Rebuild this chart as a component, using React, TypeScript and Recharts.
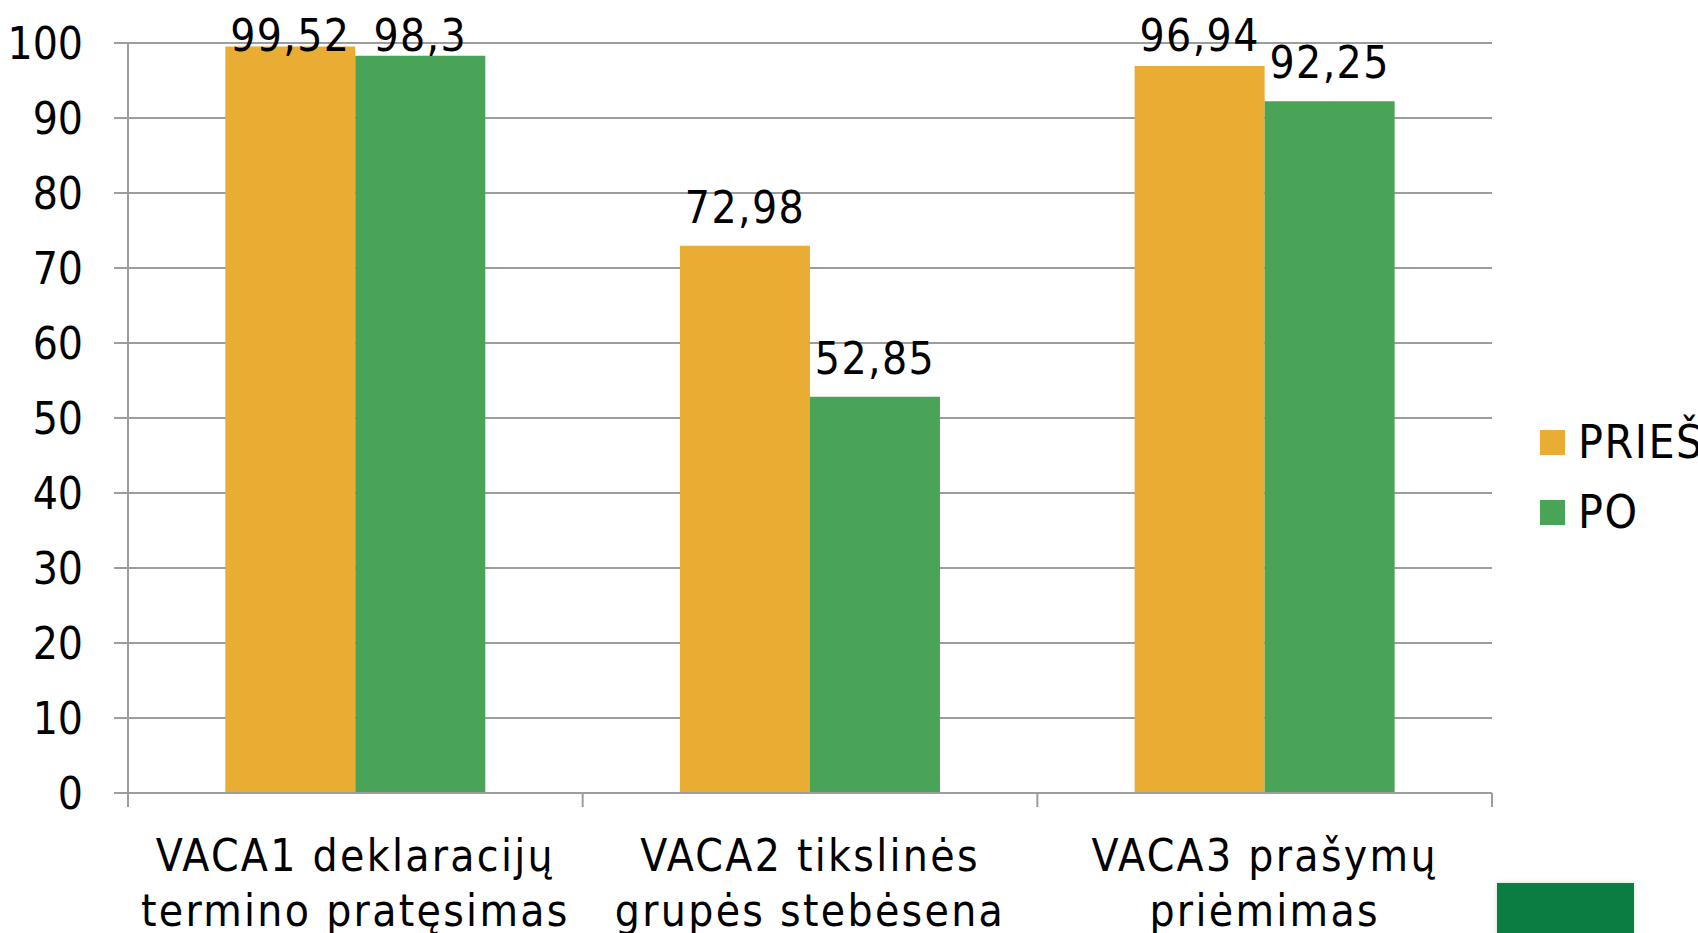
import React from 'react';
import { BarChart, Bar, XAxis, YAxis, CartesianGrid, LabelList, Legend } from 'recharts';

const categoryLine1 = ['VACA1 deklaracijų', 'VACA2 tikslinės', 'VACA3 prašymų'];
const categoryLine2 = ['termino pratęsimas', 'grupės stebėsena', 'priėmimas'];
const priesValues = [99.52, 72.98, 96.94];
const poValues = [98.3, 52.85, 92.25];
const yTicks = [0, 10, 20, 30, 40, 50, 60, 70, 80, 90, 100];
const seriesNames = ['PRIEŠ', 'PO'];

const data = categoryLine1.map((c, i) => ({
  name: c,
  pries: priesValues[i],
  po: poValues[i],
}));

const FONT = "'DejaVu Sans Condensed', 'DejaVu Sans', sans-serif";
const FS = 44;
const GRID = '#9d9d9d';
const ORANGE = '#EAAD33';
const GREEN = '#4AA457';

const fmt = (v: number) => String(v).replace('.', ',');

const ValueLabel = (props: any) => {
  const { x, y, width, value } = props;
  const by = Math.max(y - 23, 51);
  return (
    <text
      x={x + width / 2}
      y={by}
      textAnchor="middle"
      fill="#000"
      fontSize={FS}
      fontFamily={FONT}
      letterSpacing={1.4}
      style={{ fontStretch: 'condensed' }}
    >
      {fmt(value)}
    </text>
  );
};

const CategoryTick = (props: any) => {
  const { x, y, payload } = props;
  const i = categoryLine1.indexOf(payload.value);
  const half = payload && typeof payload.offset === 'number' ? payload.offset : 0;
  const isLast = i === categoryLine1.length - 1;
  return (
    <g>
      {half > 0 && (
        <line x1={x - half} x2={x - half} y1={y} y2={y + 14} stroke={GRID} strokeWidth={2} />
      )}
      {half > 0 && isLast && (
        <line x1={x + half} x2={x + half} y1={y} y2={y + 14} stroke={GRID} strokeWidth={2} />
      )}
      <text
        textAnchor="middle"
        fill="#000"
        fontSize={FS}
        fontFamily={FONT}
        letterSpacing={2.3}
        style={{ fontStretch: 'condensed' }}
      >
        <tspan x={x} y={y + 78}>{categoryLine1[i]}</tspan>
        <tspan x={x} y={y + 133}>{categoryLine2[i]}</tspan>
      </text>
    </g>
  );
};

const LegendContent = (props: any) => {
  const payload = [...(props.payload || [])].sort(
    (a: any, b: any) => seriesNames.indexOf(a.value) - seriesNames.indexOf(b.value)
  );
  return (
    <div style={{ fontFamily: FONT, fontStretch: 'condensed', fontSize: 46 }}>
      {payload.map((p: any) => (
        <div key={p.value} style={{ height: 70, display: 'flex', alignItems: 'center', whiteSpace: 'nowrap' }}>
          <div style={{ width: 25, height: 25, background: p.color, marginRight: 13, flex: 'none' }} />
          <span style={{ lineHeight: 1, color: '#000', letterSpacing: 1.5 }}>{p.value}</span>
        </div>
      ))}
    </div>
  );
};

export default function App() {
  return (
    <div style={{ position: 'absolute', left: 0, top: 0, width: 1698, height: 933, overflow: 'hidden', background: '#fff' }}>
      <BarChart
        width={1698}
        height={933}
        data={data}
        margin={{ top: 43, right: 206, bottom: 0, left: 0 }}
        barGap={0}
        barCategoryGap="21.4%"
      >
        <CartesianGrid vertical={false} stroke={GRID} strokeWidth={2} />
        <XAxis
          dataKey="name"
          height={140}
          tickSize={0}
          tickMargin={0}
          tickLine={false}
          axisLine={{ stroke: GRID, strokeWidth: 2 }}
          tick={<CategoryTick />}
          interval={0}
        />
        <YAxis
          domain={[0, 100]}
          ticks={yTicks}
          interval={0}
          width={128}
          tickSize={14}
          tickMargin={31}
          axisLine={{ stroke: GRID, strokeWidth: 2 }}
          tickLine={{ stroke: GRID, strokeWidth: 2 }}
          tick={{ fill: '#000', fontSize: FS, fontFamily: FONT, style: { fontStretch: 'condensed' } } as any}
        />
        <Legend
          layout="horizontal"
          verticalAlign="middle"
          align="center"
          content={<LegendContent />}
          wrapperStyle={{ position: 'absolute', left: 1540, top: 407, width: 300 }}
        />
        <Bar dataKey="pries" name={seriesNames[0]} fill={ORANGE} isAnimationActive={false}>
          <LabelList dataKey="pries" content={<ValueLabel />} />
        </Bar>
        <Bar dataKey="po" name={seriesNames[1]} fill={GREEN} isAnimationActive={false}>
          <LabelList dataKey="po" content={<ValueLabel />} />
        </Bar>
      </BarChart>
      <div
        style={{
          position: 'absolute',
          left: 1497,
          top: 883,
          width: 137,
          height: 60,
          background: '#0B7D43',
          boxShadow: '0 0 4px rgba(120,190,140,0.5)',
        }}
      />
    </div>
  );
}
